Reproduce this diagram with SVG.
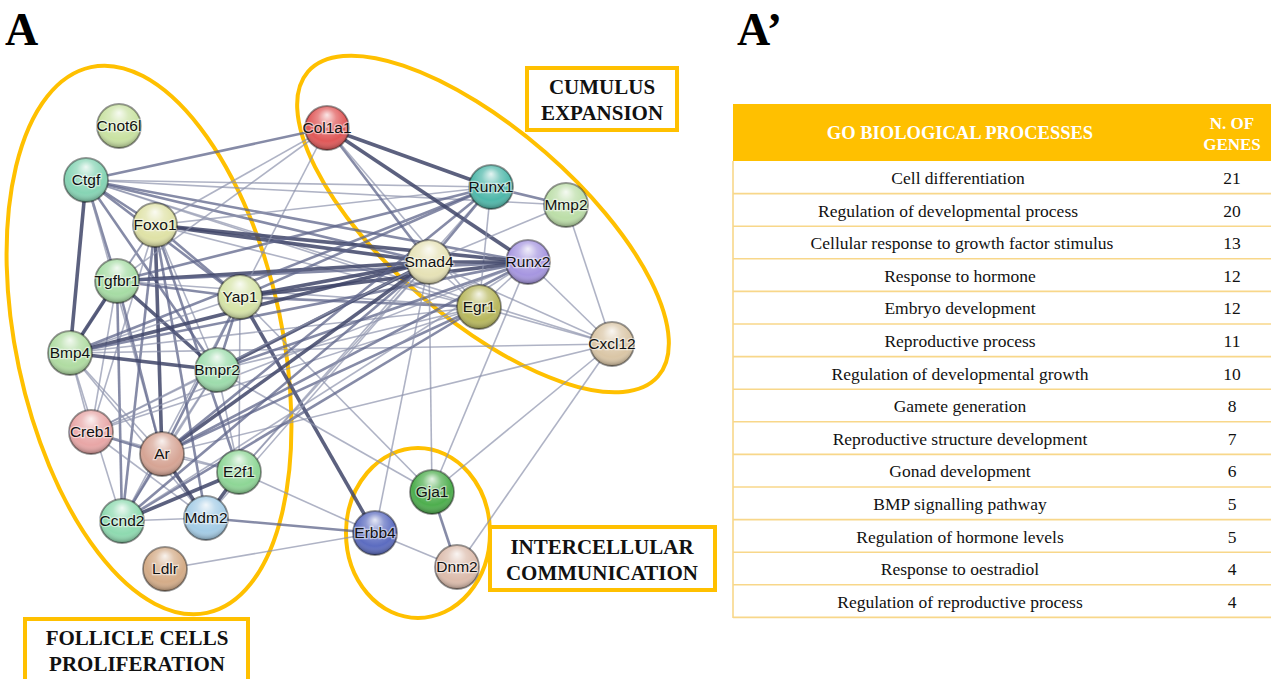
<svg xmlns="http://www.w3.org/2000/svg" width="1271" height="679" viewBox="0 0 1271 679">
<style>
.bg{fill:#fff}
.e1{stroke:#8d93ad;stroke-width:1.6;stroke-opacity:0.7;fill:none}
.e2{stroke:#5d6489;stroke-width:2.6;stroke-opacity:0.75;fill:none}
.e3{stroke:#3f4569;stroke-width:3.6;stroke-opacity:0.85;fill:none}
.nd{stroke:rgba(0,0,0,0.42);stroke-width:1.8}
.sh{fill:url(#shine)}
.lb{font-family:"Liberation Sans",Arial,sans-serif;font-size:15.5px;fill:#111;text-anchor:middle;paint-order:stroke;stroke:#fff;stroke-opacity:0.5;stroke-width:2.5px}
.grp{fill:none;stroke:#FFC000;stroke-width:4}
.box{fill:#fff;stroke:#FFC000;stroke-width:4}
.bt{font-family:"Liberation Serif","Times New Roman",serif;font-weight:bold;font-size:21px;fill:#111;text-anchor:middle}
.pl{font-family:"Liberation Serif","Times New Roman",serif;font-weight:bold;font-size:46px;fill:#000}
.hd{fill:#FFC000}
.ht{font-family:"Liberation Serif","Times New Roman",serif;font-weight:bold;font-size:18.5px;fill:#fff;text-anchor:middle}
.hs{font-size:17px}
.rl{stroke:#F8D78A;stroke-width:1.6}
.rt{font-family:"Liberation Serif","Times New Roman",serif;font-size:17.5px;fill:#111;text-anchor:middle}
</style>
<defs>
<radialGradient id="shine" cx="50%" cy="40%" r="60%" fx="50%" fy="20%">
<stop offset="0" stop-color="#fff" stop-opacity="0.85"/>
<stop offset="0.35" stop-color="#fff" stop-opacity="0.3"/>
<stop offset="0.75" stop-color="#fff" stop-opacity="0"/>
<stop offset="1" stop-color="#000" stop-opacity="0.32"/>
</radialGradient>
</defs>
<rect class="bg" x="0" y="0" width="1271" height="679"/>
<text class="pl" x="5" y="45">A</text>
<text class="pl" x="737" y="45">A’</text>

<g id="groups">
<ellipse class="grp" cx="149" cy="340" rx="133" ry="279" transform="rotate(-12 149 340)"/>
<ellipse class="grp" cx="483" cy="224" rx="232" ry="95" transform="rotate(41 483 224)"/>
<ellipse class="grp" cx="418" cy="533" rx="72" ry="85"/>
</g>

<g id="connectors">
<line class="e2" x1="86" y1="180" x2="327" y2="128"/>
<line class="e1" x1="86" y1="180" x2="491" y2="187"/>
<line class="e1" x1="86" y1="180" x2="566" y2="205"/>
<line class="e2" x1="86" y1="180" x2="429" y2="262"/>
<line class="e2" x1="86" y1="180" x2="528" y2="262"/>
<line class="e1" x1="86" y1="180" x2="479" y2="307"/>
<line class="e2" x1="86" y1="180" x2="155" y2="225"/>
<line class="e2" x1="86" y1="180" x2="117" y2="281"/>
<line class="e3" x1="86" y1="180" x2="70" y2="353"/>
<line class="e2" x1="86" y1="180" x2="240" y2="297"/>
<line class="e2" x1="86" y1="180" x2="217" y2="370"/>
<line class="e1" x1="86" y1="180" x2="162" y2="454"/>
<line class="e1" x1="86" y1="180" x2="612" y2="344"/>
<line class="e3" x1="155" y1="225" x2="429" y2="262"/>
<line class="e3" x1="155" y1="225" x2="528" y2="262"/>
<line class="e3" x1="155" y1="225" x2="162" y2="454"/>
<line class="e2" x1="155" y1="225" x2="206" y2="518"/>
<line class="e2" x1="155" y1="225" x2="122" y2="521"/>
<line class="e1" x1="155" y1="225" x2="91" y2="432"/>
<line class="e2" x1="155" y1="225" x2="240" y2="297"/>
<line class="e1" x1="155" y1="225" x2="70" y2="353"/>
<line class="e2" x1="155" y1="225" x2="239" y2="472"/>
<line class="e1" x1="155" y1="225" x2="117" y2="281"/>
<line class="e1" x1="155" y1="225" x2="479" y2="307"/>
<line class="e1" x1="155" y1="225" x2="217" y2="370"/>
<line class="e1" x1="155" y1="225" x2="491" y2="187"/>
<line class="e1" x1="155" y1="225" x2="327" y2="128"/>
<line class="e3" x1="117" y1="281" x2="429" y2="262"/>
<line class="e2" x1="117" y1="281" x2="528" y2="262"/>
<line class="e2" x1="117" y1="281" x2="240" y2="297"/>
<line class="e3" x1="117" y1="281" x2="70" y2="353"/>
<line class="e3" x1="117" y1="281" x2="217" y2="370"/>
<line class="e2" x1="117" y1="281" x2="162" y2="454"/>
<line class="e2" x1="117" y1="281" x2="122" y2="521"/>
<line class="e1" x1="117" y1="281" x2="91" y2="432"/>
<line class="e2" x1="117" y1="281" x2="491" y2="187"/>
<line class="e1" x1="117" y1="281" x2="479" y2="307"/>
<line class="e1" x1="117" y1="281" x2="327" y2="128"/>
<line class="e3" x1="240" y1="297" x2="429" y2="262"/>
<line class="e3" x1="240" y1="297" x2="528" y2="262"/>
<line class="e2" x1="240" y1="297" x2="491" y2="187"/>
<line class="e3" x1="240" y1="297" x2="375" y2="533"/>
<line class="e2" x1="240" y1="297" x2="217" y2="370"/>
<line class="e2" x1="240" y1="297" x2="162" y2="454"/>
<line class="e1" x1="240" y1="297" x2="122" y2="521"/>
<line class="e1" x1="240" y1="297" x2="239" y2="472"/>
<line class="e2" x1="240" y1="297" x2="479" y2="307"/>
<line class="e1" x1="240" y1="297" x2="70" y2="353"/>
<line class="e1" x1="240" y1="297" x2="327" y2="128"/>
<line class="e1" x1="240" y1="297" x2="432" y2="492"/>
<line class="e3" x1="70" y1="353" x2="429" y2="262"/>
<line class="e3" x1="70" y1="353" x2="217" y2="370"/>
<line class="e2" x1="70" y1="353" x2="528" y2="262"/>
<line class="e1" x1="70" y1="353" x2="162" y2="454"/>
<line class="e1" x1="70" y1="353" x2="122" y2="521"/>
<line class="e1" x1="70" y1="353" x2="479" y2="307"/>
<line class="e2" x1="70" y1="353" x2="491" y2="187"/>
<line class="e1" x1="70" y1="353" x2="612" y2="344"/>
<line class="e1" x1="70" y1="353" x2="91" y2="432"/>
<line class="e1" x1="70" y1="353" x2="206" y2="518"/>
<line class="e3" x1="217" y1="370" x2="429" y2="262"/>
<line class="e2" x1="217" y1="370" x2="528" y2="262"/>
<line class="e1" x1="217" y1="370" x2="162" y2="454"/>
<line class="e1" x1="217" y1="370" x2="122" y2="521"/>
<line class="e1" x1="217" y1="370" x2="239" y2="472"/>
<line class="e1" x1="217" y1="370" x2="91" y2="432"/>
<line class="e1" x1="217" y1="370" x2="479" y2="307"/>
<line class="e1" x1="217" y1="370" x2="432" y2="492"/>
<line class="e2" x1="91" y1="432" x2="162" y2="454"/>
<line class="e1" x1="91" y1="432" x2="429" y2="262"/>
<line class="e1" x1="91" y1="432" x2="528" y2="262"/>
<line class="e1" x1="91" y1="432" x2="239" y2="472"/>
<line class="e1" x1="91" y1="432" x2="479" y2="307"/>
<line class="e1" x1="91" y1="432" x2="206" y2="518"/>
<line class="e3" x1="162" y1="454" x2="429" y2="262"/>
<line class="e2" x1="162" y1="454" x2="528" y2="262"/>
<line class="e2" x1="162" y1="454" x2="479" y2="307"/>
<line class="e3" x1="162" y1="454" x2="206" y2="518"/>
<line class="e2" x1="162" y1="454" x2="122" y2="521"/>
<line class="e1" x1="162" y1="454" x2="239" y2="472"/>
<line class="e1" x1="162" y1="454" x2="612" y2="344"/>
<line class="e2" x1="162" y1="454" x2="491" y2="187"/>
<line class="e3" x1="239" y1="472" x2="206" y2="518"/>
<line class="e3" x1="239" y1="472" x2="122" y2="521"/>
<line class="e1" x1="239" y1="472" x2="429" y2="262"/>
<line class="e1" x1="239" y1="472" x2="491" y2="187"/>
<line class="e1" x1="239" y1="472" x2="375" y2="533"/>
<line class="e1" x1="122" y1="521" x2="206" y2="518"/>
<line class="e2" x1="122" y1="521" x2="429" y2="262"/>
<line class="e2" x1="122" y1="521" x2="479" y2="307"/>
<line class="e1" x1="122" y1="521" x2="528" y2="262"/>
<line class="e2" x1="206" y1="518" x2="375" y2="533"/>
<line class="e1" x1="206" y1="518" x2="429" y2="262"/>
<line class="e1" x1="165" y1="569" x2="375" y2="533"/>
<line class="e3" x1="327" y1="128" x2="491" y2="187"/>
<line class="e3" x1="327" y1="128" x2="528" y2="262"/>
<line class="e2" x1="327" y1="128" x2="429" y2="262"/>
<line class="e1" x1="327" y1="128" x2="479" y2="307"/>
<line class="e2" x1="491" y1="187" x2="566" y2="205"/>
<line class="e2" x1="491" y1="187" x2="429" y2="262"/>
<line class="e1" x1="491" y1="187" x2="479" y2="307"/>
<line class="e1" x1="566" y1="205" x2="612" y2="344"/>
<line class="e1" x1="566" y1="205" x2="429" y2="262"/>
<line class="e3" x1="429" y1="262" x2="528" y2="262"/>
<line class="e1" x1="429" y1="262" x2="479" y2="307"/>
<line class="e1" x1="429" y1="262" x2="612" y2="344"/>
<line class="e1" x1="429" y1="262" x2="375" y2="533"/>
<line class="e1" x1="429" y1="262" x2="432" y2="492"/>
<line class="e1" x1="528" y1="262" x2="612" y2="344"/>
<line class="e1" x1="528" y1="262" x2="479" y2="307"/>
<line class="e1" x1="528" y1="262" x2="432" y2="492"/>
<line class="e1" x1="479" y1="307" x2="612" y2="344"/>
<line class="e1" x1="612" y1="344" x2="432" y2="492"/>
<line class="e1" x1="612" y1="344" x2="457" y2="567"/>
<line class="e2" x1="432" y1="492" x2="457" y2="567"/>
<line class="e1" x1="375" y1="533" x2="457" y2="567"/>
</g>

<g id="n-Cnot6l"><circle class="nd" cx="119" cy="126" r="22" fill="#c9e2a2"/><circle class="sh" cx="119" cy="126" r="22"/><text class="lb" x="119" y="131">Cnot6l</text></g>
<g id="n-Ctgf"><circle class="nd" cx="86" cy="180" r="22" fill="#86d4b4"/><circle class="sh" cx="86" cy="180" r="22"/><text class="lb" x="86" y="185">Ctgf</text></g>
<g id="n-Foxo1"><circle class="nd" cx="155" cy="225" r="22" fill="#dfe2a6"/><circle class="sh" cx="155" cy="225" r="22"/><text class="lb" x="155" y="230">Foxo1</text></g>
<g id="n-Tgfbr1"><circle class="nd" cx="117" cy="281" r="22" fill="#a6dca4"/><circle class="sh" cx="117" cy="281" r="22"/><text class="lb" x="117" y="286">Tgfbr1</text></g>
<g id="n-Yap1"><circle class="nd" cx="240" cy="297" r="22" fill="#d6e4a8"/><circle class="sh" cx="240" cy="297" r="22"/><text class="lb" x="240" y="302">Yap1</text></g>
<g id="n-Bmp4"><circle class="nd" cx="70" cy="353" r="22" fill="#b0dca2"/><circle class="sh" cx="70" cy="353" r="22"/><text class="lb" x="70" y="358">Bmp4</text></g>
<g id="n-Bmpr2"><circle class="nd" cx="217" cy="370" r="22" fill="#9ddcac"/><circle class="sh" cx="217" cy="370" r="22"/><text class="lb" x="217" y="375">Bmpr2</text></g>
<g id="n-Creb1"><circle class="nd" cx="91" cy="432" r="22" fill="#e8a6a6"/><circle class="sh" cx="91" cy="432" r="22"/><text class="lb" x="91" y="437">Creb1</text></g>
<g id="n-Ar"><circle class="nd" cx="162" cy="454" r="22" fill="#d6a494"/><circle class="sh" cx="162" cy="454" r="22"/><text class="lb" x="162" y="459">Ar</text></g>
<g id="n-E2f1"><circle class="nd" cx="239" cy="472" r="22" fill="#8ed696"/><circle class="sh" cx="239" cy="472" r="22"/><text class="lb" x="239" y="477">E2f1</text></g>
<g id="n-Ccnd2"><circle class="nd" cx="122" cy="521" r="22" fill="#8edab0"/><circle class="sh" cx="122" cy="521" r="22"/><text class="lb" x="122" y="526">Ccnd2</text></g>
<g id="n-Mdm2"><circle class="nd" cx="206" cy="518" r="22" fill="#a4cce6"/><circle class="sh" cx="206" cy="518" r="22"/><text class="lb" x="206" y="523">Mdm2</text></g>
<g id="n-Ldlr"><circle class="nd" cx="165" cy="569" r="22" fill="#d4ac88"/><circle class="sh" cx="165" cy="569" r="22"/><text class="lb" x="165" y="574">Ldlr</text></g>
<g id="n-Col1a1"><circle class="nd" cx="327" cy="128" r="22" fill="#e05858"/><circle class="sh" cx="327" cy="128" r="22"/><text class="lb" x="327" y="133">Col1a1</text></g>
<g id="n-Runx1"><circle class="nd" cx="491" cy="187" r="22" fill="#4fb8aa"/><circle class="sh" cx="491" cy="187" r="22"/><text class="lb" x="491" y="192">Runx1</text></g>
<g id="n-Mmp2"><circle class="nd" cx="566" cy="205" r="22" fill="#bcdea8"/><circle class="sh" cx="566" cy="205" r="22"/><text class="lb" x="566" y="210">Mmp2</text></g>
<g id="n-Smad4"><circle class="nd" cx="429" cy="262" r="22" fill="#e6e2b6"/><circle class="sh" cx="429" cy="262" r="22"/><text class="lb" x="429" y="267">Smad4</text></g>
<g id="n-Runx2"><circle class="nd" cx="528" cy="262" r="22" fill="#a696e0"/><circle class="sh" cx="528" cy="262" r="22"/><text class="lb" x="528" y="267">Runx2</text></g>
<g id="n-Egr1"><circle class="nd" cx="479" cy="307" r="22" fill="#b8b85e"/><circle class="sh" cx="479" cy="307" r="22"/><text class="lb" x="479" y="312">Egr1</text></g>
<g id="n-Cxcl12"><circle class="nd" cx="612" cy="344" r="22" fill="#dac6a6"/><circle class="sh" cx="612" cy="344" r="22"/><text class="lb" x="612" y="349">Cxcl12</text></g>
<g id="n-Gja1"><circle class="nd" cx="432" cy="492" r="22" fill="#4eae4e"/><circle class="sh" cx="432" cy="492" r="22"/><text class="lb" x="432" y="497">Gja1</text></g>
<g id="n-Erbb4"><circle class="nd" cx="375" cy="533" r="22" fill="#5c6cc0"/><circle class="sh" cx="375" cy="533" r="22"/><text class="lb" x="375" y="538">Erbb4</text></g>
<g id="n-Dnm2"><circle class="nd" cx="457" cy="567" r="22" fill="#dcbcac"/><circle class="sh" cx="457" cy="567" r="22"/><text class="lb" x="457" y="572">Dnm2</text></g>

<g id="label-cumulus"><rect class="box" x="527" y="68" width="150" height="62"/><text class="bt" x="602" y="94">CUMULUS</text><text class="bt" x="602" y="120">EXPANSION</text></g>
<g id="label-follicle"><rect class="box" x="25" y="619" width="223" height="70"/><text class="bt" x="137" y="645">FOLLICLE CELLS</text><text class="bt" x="137" y="671">PROLIFERATION</text></g>
<g id="label-intercellular"><rect class="box" x="490" y="527" width="225" height="63"/><text class="bt" x="602" y="554">INTERCELLULAR</text><text class="bt" x="602" y="580">COMMUNICATION</text></g>

<g id="table">
<rect class="hd" x="733" y="104" width="538" height="57"/>
<text class="ht" x="960" y="139">GO BIOLOGICAL PROCESSES</text>
<text class="ht hs" x="1232" y="129">N. OF</text>
<text class="ht hs" x="1232" y="150">GENES</text>
<line class="rl" x1="733" y1="161" x2="733" y2="618"/>
<line class="rl" x1="733" y1="193.6" x2="1271" y2="193.6"/>
<line class="rl" x1="733" y1="226.2" x2="1271" y2="226.2"/>
<line class="rl" x1="733" y1="258.8" x2="1271" y2="258.8"/>
<line class="rl" x1="733" y1="291.4" x2="1271" y2="291.4"/>
<line class="rl" x1="733" y1="324" x2="1271" y2="324"/>
<line class="rl" x1="733" y1="356.6" x2="1271" y2="356.6"/>
<line class="rl" x1="733" y1="389.2" x2="1271" y2="389.2"/>
<line class="rl" x1="733" y1="421.8" x2="1271" y2="421.8"/>
<line class="rl" x1="733" y1="454.4" x2="1271" y2="454.4"/>
<line class="rl" x1="733" y1="487" x2="1271" y2="487"/>
<line class="rl" x1="733" y1="519.6" x2="1271" y2="519.6"/>
<line class="rl" x1="733" y1="552.2" x2="1271" y2="552.2"/>
<line class="rl" x1="733" y1="584.8" x2="1271" y2="584.8"/>
<line class="rl" x1="733" y1="617.4" x2="1271" y2="617.4"/>
<text class="rt" x="958" y="184">Cell differentiation</text><text class="rt" x="1232" y="184">21</text>
<text class="rt" x="948" y="216.6">Regulation of developmental process</text><text class="rt" x="1232" y="216.6">20</text>
<text class="rt" x="962" y="249.2">Cellular response to growth factor stimulus</text><text class="rt" x="1232" y="249.2">13</text>
<text class="rt" x="960" y="281.8">Response to hormone</text><text class="rt" x="1232" y="281.8">12</text>
<text class="rt" x="960" y="314.4">Embryo development</text><text class="rt" x="1232" y="314.4">12</text>
<text class="rt" x="960" y="347">Reproductive process</text><text class="rt" x="1232" y="347">11</text>
<text class="rt" x="960" y="379.6">Regulation of developmental growth</text><text class="rt" x="1232" y="379.6">10</text>
<text class="rt" x="960" y="412.2">Gamete generation</text><text class="rt" x="1232" y="412.2">8</text>
<text class="rt" x="960" y="444.8">Reproductive structure development</text><text class="rt" x="1232" y="444.8">7</text>
<text class="rt" x="960" y="477.4">Gonad development</text><text class="rt" x="1232" y="477.4">6</text>
<text class="rt" x="960" y="510">BMP signalling pathway</text><text class="rt" x="1232" y="510">5</text>
<text class="rt" x="960" y="542.6">Regulation of hormone levels</text><text class="rt" x="1232" y="542.6">5</text>
<text class="rt" x="960" y="575.2">Response to oestradiol</text><text class="rt" x="1232" y="575.2">4</text>
<text class="rt" x="960" y="607.8">Regulation of reproductive process</text><text class="rt" x="1232" y="607.8">4</text>
</g>
</svg>
